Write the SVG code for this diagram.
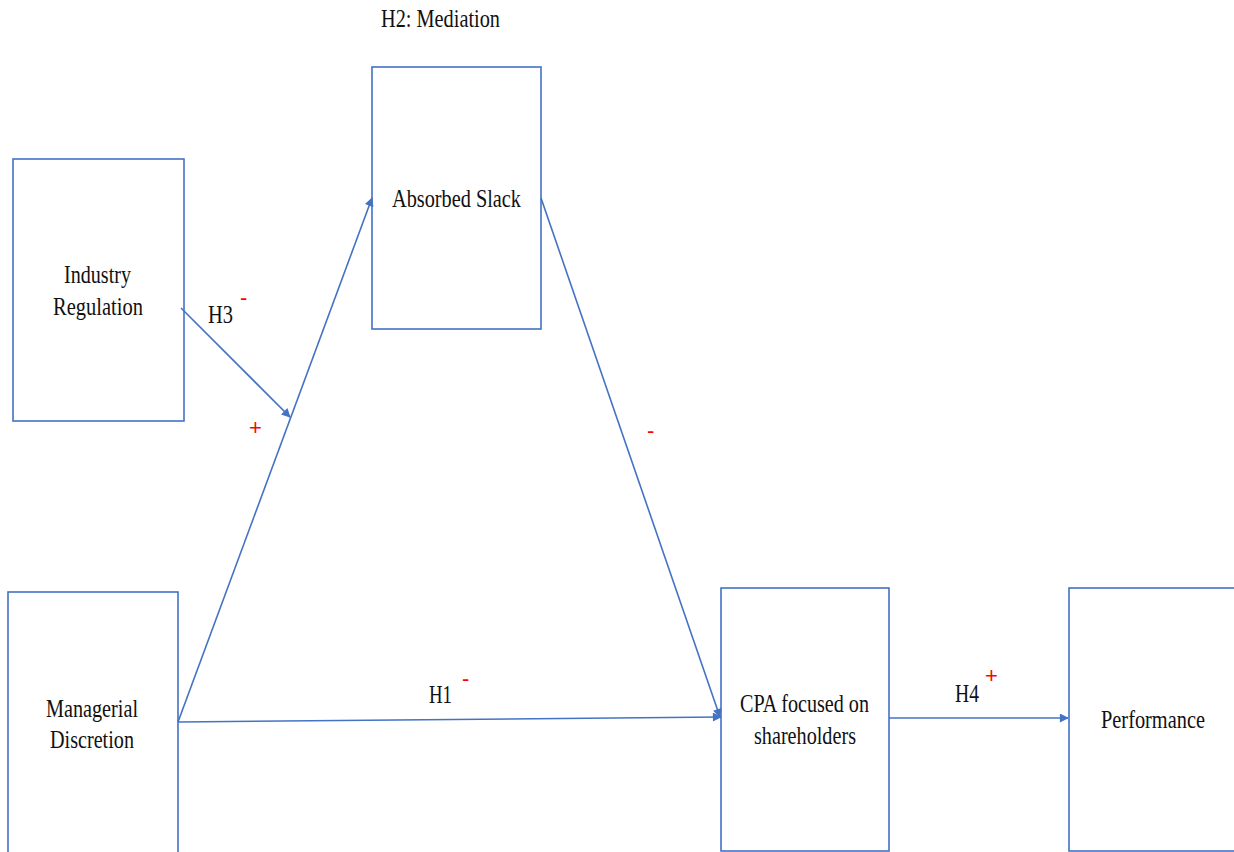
<svg xmlns="http://www.w3.org/2000/svg" width="1234" height="852" viewBox="0 0 1234 852">
  <style>
    .box { fill: #ffffff; stroke: #4472C4; stroke-width: 1.6; }
    .edge { fill: none; stroke: #4472C4; stroke-width: 1.6; marker-end: url(#arrow); }
    .lbl { font-family: "Liberation Serif", "Times New Roman", serif; font-size: 26px; fill: #111111; }
    .sign { font-family: "Liberation Sans", Arial, sans-serif; font-size: 22px; fill: #ff0000; }
  </style>
  <defs>
    <marker id="arrow" viewBox="0 0 10 10" refX="9" refY="5" markerWidth="10" markerHeight="9" markerUnits="userSpaceOnUse" orient="auto">
      <path d="M0,0 L10,5 L0,10 z" fill="#4472C4"/>
    </marker>
  </defs>

  <rect width="1234" height="852" fill="#ffffff"/>

  <text class="lbl" x="381" y="27" textLength="119" lengthAdjust="spacingAndGlyphs">H2: Mediation</text>

  <g id="absorbed-slack">
    <rect class="box" x="372" y="67" width="169" height="262"/>
    <text class="lbl" x="392" y="207" textLength="129" lengthAdjust="spacingAndGlyphs">Absorbed Slack</text>
  </g>

  <g id="industry-regulation">
    <rect class="box" x="13" y="159" width="171" height="262"/>
    <text class="lbl" x="64" y="283" textLength="67" lengthAdjust="spacingAndGlyphs">Industry</text>
    <text class="lbl" x="53" y="315" textLength="90" lengthAdjust="spacingAndGlyphs">Regulation</text>
  </g>

  <g id="managerial-discretion">
    <rect class="box" x="8" y="592" width="170" height="270"/>
    <text class="lbl" x="46" y="717" textLength="92" lengthAdjust="spacingAndGlyphs">Managerial</text>
    <text class="lbl" x="50" y="748" textLength="84" lengthAdjust="spacingAndGlyphs">Discretion</text>
  </g>

  <g id="cpa-shareholders">
    <rect class="box" x="721" y="588" width="168" height="263"/>
    <text class="lbl" x="740" y="712" textLength="129" lengthAdjust="spacingAndGlyphs">CPA focused on</text>
    <text class="lbl" x="754" y="744" textLength="102" lengthAdjust="spacingAndGlyphs">shareholders</text>
  </g>

  <g id="performance">
    <rect class="box" x="1069" y="588" width="175" height="263"/>
    <text class="lbl" x="1101" y="728" textLength="104" lengthAdjust="spacingAndGlyphs">Performance</text>
  </g>

  <g id="connectors">
    <line class="edge" x1="178" y1="722" x2="372" y2="198"/>
    <line class="edge" x1="178" y1="722" x2="721" y2="717"/>
    <line class="edge" x1="541" y1="198" x2="720" y2="717"/>
    <line class="edge" x1="181" y1="308" x2="290" y2="417"/>
    <line class="edge" x1="889" y1="718" x2="1068" y2="718"/>
  </g>

  <g id="labels">
    <text class="lbl" x="208" y="323" textLength="25" lengthAdjust="spacingAndGlyphs">H3</text>
    <text class="sign" x="240" y="305">-</text>
    <text class="sign" x="249" y="435">+</text>
    <text class="sign" x="647" y="438">-</text>
    <text class="lbl" x="429" y="703" textLength="23" lengthAdjust="spacingAndGlyphs">H1</text>
    <text class="sign" x="462" y="686">-</text>
    <text class="lbl" x="955" y="702" textLength="24" lengthAdjust="spacingAndGlyphs">H4</text>
    <text class="sign" x="985" y="683">+</text>
  </g>
</svg>
